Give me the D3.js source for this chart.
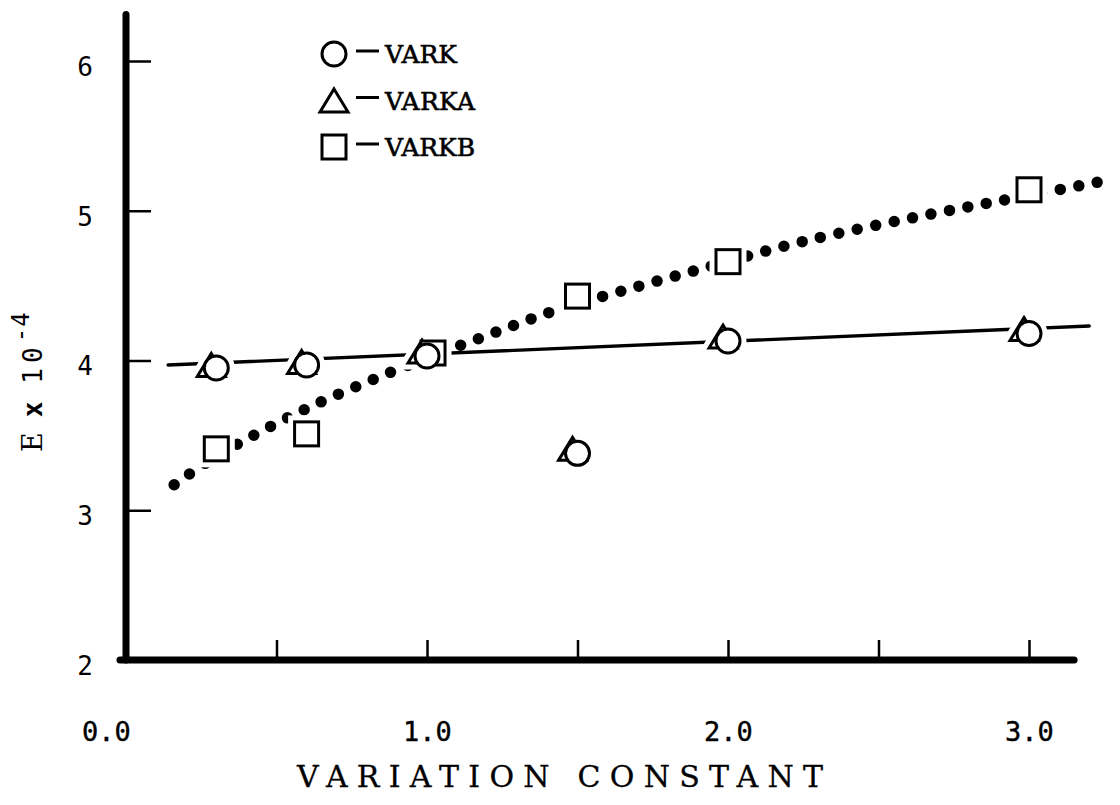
<!DOCTYPE html>
<html>
<head>
<meta charset="utf-8">
<script src="https://cdn.jsdelivr.net/npm/d3@7/dist/d3.min.js"></script>
<style>
  html, body { margin: 0; padding: 0; background: #fff; }
  svg { display: block; }
</style>
</head>
<body>
<svg id="chart" width="1120" height="805"></svg>
<script>
// Variation constant (x) for the measured points
const xValues = [0.3, 0.6, 1.0, 1.5, 2.0, 3.0];
const varkbX = [0.3, 0.6, 1.02, 1.5, 2.0, 3.0];

// E x 10^-4 for each series
const varkValues  = [3.95, 3.97, 4.03, 3.38, 4.13, 4.18];
const varkaValues = [3.97, 3.99, 4.06, 3.41, 4.16, 4.21];
const varkbValues = [3.41, 3.51, 4.05, 4.43, 4.66, 5.14];

// Fitted straight line through VARK / VARKA
const varkFitX = [0.14, 3.2];
const varkFitY = [3.97, 4.23];

// Fitted curve through VARKB (dotted)
const varkbFitX = [0.16, 0.30, 0.58, 0.89, 1.19, 1.42, 1.64, 1.89, 2.26, 2.68, 2.94, 3.28];
const varkbFitY = [3.17, 3.36, 3.66, 3.93, 4.16, 4.33, 4.46, 4.60, 4.80, 4.98, 5.08, 5.21];

// Axes
const xTickValues = [0, 0.5, 1, 1.5, 2, 2.5, 3];
const xTickLabels = ["0.0", "", "1.0", "", "2.0", "", "3.0"];
const yTickValues = [2, 3, 4, 5, 6];
const xAxisExtent = [-0.02, 3.15];
const yAxisExtent = [2, 6.31];

const seriesNames = ["VARK", "VARKA", "VARKB"];
const seriesSymbols = ["circle", "triangle", "square"];

const svg = d3.select("#chart");
const x = d3.scaleLinear().domain([0, 3]).range([126, 1029]);
const y = d3.scaleLinear().domain([2, 6]).range([660, 61]);

const ink = "#000";
const numFont = "'DejaVu Sans Mono', monospace";
const typeFont = "'DejaVu Serif', serif";

// symbol geometry
const R = 12;            // circle radius
const SQ = 24;           // square side
const TW = 28, TH = 23;  // triangle width / height

function drawSymbol(g, kind, cx, cy, halo) {
  const stroke = halo ? "#fff" : ink;
  const sw = halo ? 13 : 3;
  let el;
  if (kind === "circle") {
    el = g.append("circle").attr("cx", cx).attr("cy", cy).attr("r", R);
  } else if (kind === "square") {
    el = g.append("rect").attr("x", cx - SQ / 2).attr("y", cy - SQ / 2)
      .attr("width", SQ).attr("height", SQ);
  } else {
    el = g.append("path").attr("d",
      `M${cx},${cy - TH / 2} L${cx + TW / 2},${cy + TH / 2} L${cx - TW / 2},${cy + TH / 2} Z`)
      .attr("stroke-linejoin", "miter");
  }
  el.attr("fill", "#fff").attr("stroke", stroke).attr("stroke-width", sw);
  return el;
}

// ---- axes ----
const yAxis = d3.axisLeft(y).tickValues(yTickValues)
  .tickSizeInner(-25).tickSizeOuter(0).tickPadding(33)
  .tickFormat(d3.format("d"));
const gy = svg.append("g").attr("transform", `translate(${x(0)},0)`).call(yAxis);
gy.select(".domain").remove();
gy.selectAll(".tick line").attr("stroke", ink).attr("stroke-width", 2.5)
  .filter(d => d === 2).remove();
gy.selectAll(".tick text").attr("fill", ink).attr("font-family", numFont)
  .attr("font-size", 26).attr("dy", "0.55em");

const xAxis = d3.axisBottom(x).tickValues(xTickValues)
  .tickSizeInner(-20).tickSizeOuter(0).tickPadding(62)
  .tickFormat((d, i) => xTickLabels[i]);
const gx = svg.append("g").attr("transform", `translate(0,${y(2)})`).call(xAxis);
gx.select(".domain").remove();
gx.selectAll(".tick line").attr("stroke", ink).attr("stroke-width", 2.5)
  .filter(d => d === 0).remove();
gx.selectAll(".tick text").attr("fill", ink).attr("font-family", numFont)
  .attr("font-size", 27).attr("stroke", ink).attr("stroke-width", 0.4)
  .attr("dx", d => d === 0 ? -20 : 0);

// heavy axis lines
svg.append("line")
  .attr("x1", x(0)).attr("x2", x(0))
  .attr("y1", y(yAxisExtent[0])).attr("y2", y(yAxisExtent[1]))
  .attr("stroke", ink).attr("stroke-width", 7).attr("stroke-linecap", "round");
svg.append("line")
  .attr("x1", x(xAxisExtent[0])).attr("x2", x(xAxisExtent[1]))
  .attr("y1", y(2)).attr("y2", y(2))
  .attr("stroke", ink).attr("stroke-width", 7).attr("stroke-linecap", "round");

// axis titles
svg.append("text")
  .attr("x", 560).attr("y", 787)
  .attr("text-anchor", "middle")
  .attr("font-family", typeFont).attr("font-size", 30)
  .attr("stroke", ink).attr("stroke-width", 0.3)
  .attr("textLength", 526).attr("lengthAdjust", "spacing")
  .attr("fill", ink)
  .text("VARIATION CONSTANT");

const yt = svg.append("text")
  .attr("transform", "translate(42,452) rotate(-90)")
  .attr("font-size", 26).attr("fill", ink);
yt.append("tspan").attr("font-family", typeFont).attr("font-size", 27).text("E");
yt.append("tspan").attr("font-family", numFont).attr("font-weight", "bold").attr("dx", 15).text("x");
yt.append("tspan").attr("font-family", numFont).attr("dx", 18)
  .attr("letter-spacing", 5).text("10");
yt.append("tspan").attr("font-family", numFont).attr("font-size", 24)
  .attr("dx", 0).attr("dy", -13).attr("letter-spacing", 1).text("-4");

// ---- fitted lines ----
svg.append("path")
  .datum(d3.zip(varkbFitX, varkbFitY))
  .attr("d", d3.line().x(d => x(d[0])).y(d => y(d[1])).curve(d3.curveCatmullRom.alpha(0.5)))
  .attr("fill", "none").attr("stroke", ink)
  .attr("stroke-width", 11.5).attr("stroke-linecap", "round")
  .attr("stroke-dasharray", "0 18.8");

svg.append("path")
  .datum(d3.zip(varkFitX, varkFitY))
  .attr("d", d3.line().x(d => x(d[0])).y(d => y(d[1])))
  .attr("fill", "none").attr("stroke", ink)
  .attr("stroke-width", 3.4).attr("stroke-linecap", "round");

// ---- markers ----
const points = [];
xValues.forEach((xv, i) => {
  points.push({ kind: "triangle", cx: x(xv) - 5, cy: y(varkaValues[i]) });
});
varkbX.forEach((xv, i) => {
  points.push({ kind: "square", cx: x(xv), cy: y(varkbValues[i]) });
});
xValues.forEach((xv, i) => {
  points.push({ kind: "circle", cx: x(xv), cy: y(varkValues[i]) });
});

const gm = svg.append("g");
points.forEach(p => drawSymbol(gm, p.kind, p.cx, p.cy, true));
points.forEach(p => drawSymbol(gm, p.kind, p.cx, p.cy, false));

// ---- legend ----
const gl = svg.append("g");
seriesNames.forEach((name, i) => {
  const cy = 54 + i * 46.5;
  drawSymbol(gl, seriesSymbols[i], 334, cy, false);
  gl.append("line").attr("x1", 356).attr("x2", 379)
    .attr("y1", cy - 3).attr("y2", cy - 3)
    .attr("stroke", ink).attr("stroke-width", 3);
  gl.append("text").attr("x", 385).attr("y", cy + 9)
    .attr("font-family", typeFont).attr("font-size", 25)
    .attr("stroke", ink).attr("stroke-width", 0.6)
    .attr("textLength", name.length * 18).attr("lengthAdjust", "spacing")
    .attr("fill", ink).text(name);
});
</script>
</body>
</html>
